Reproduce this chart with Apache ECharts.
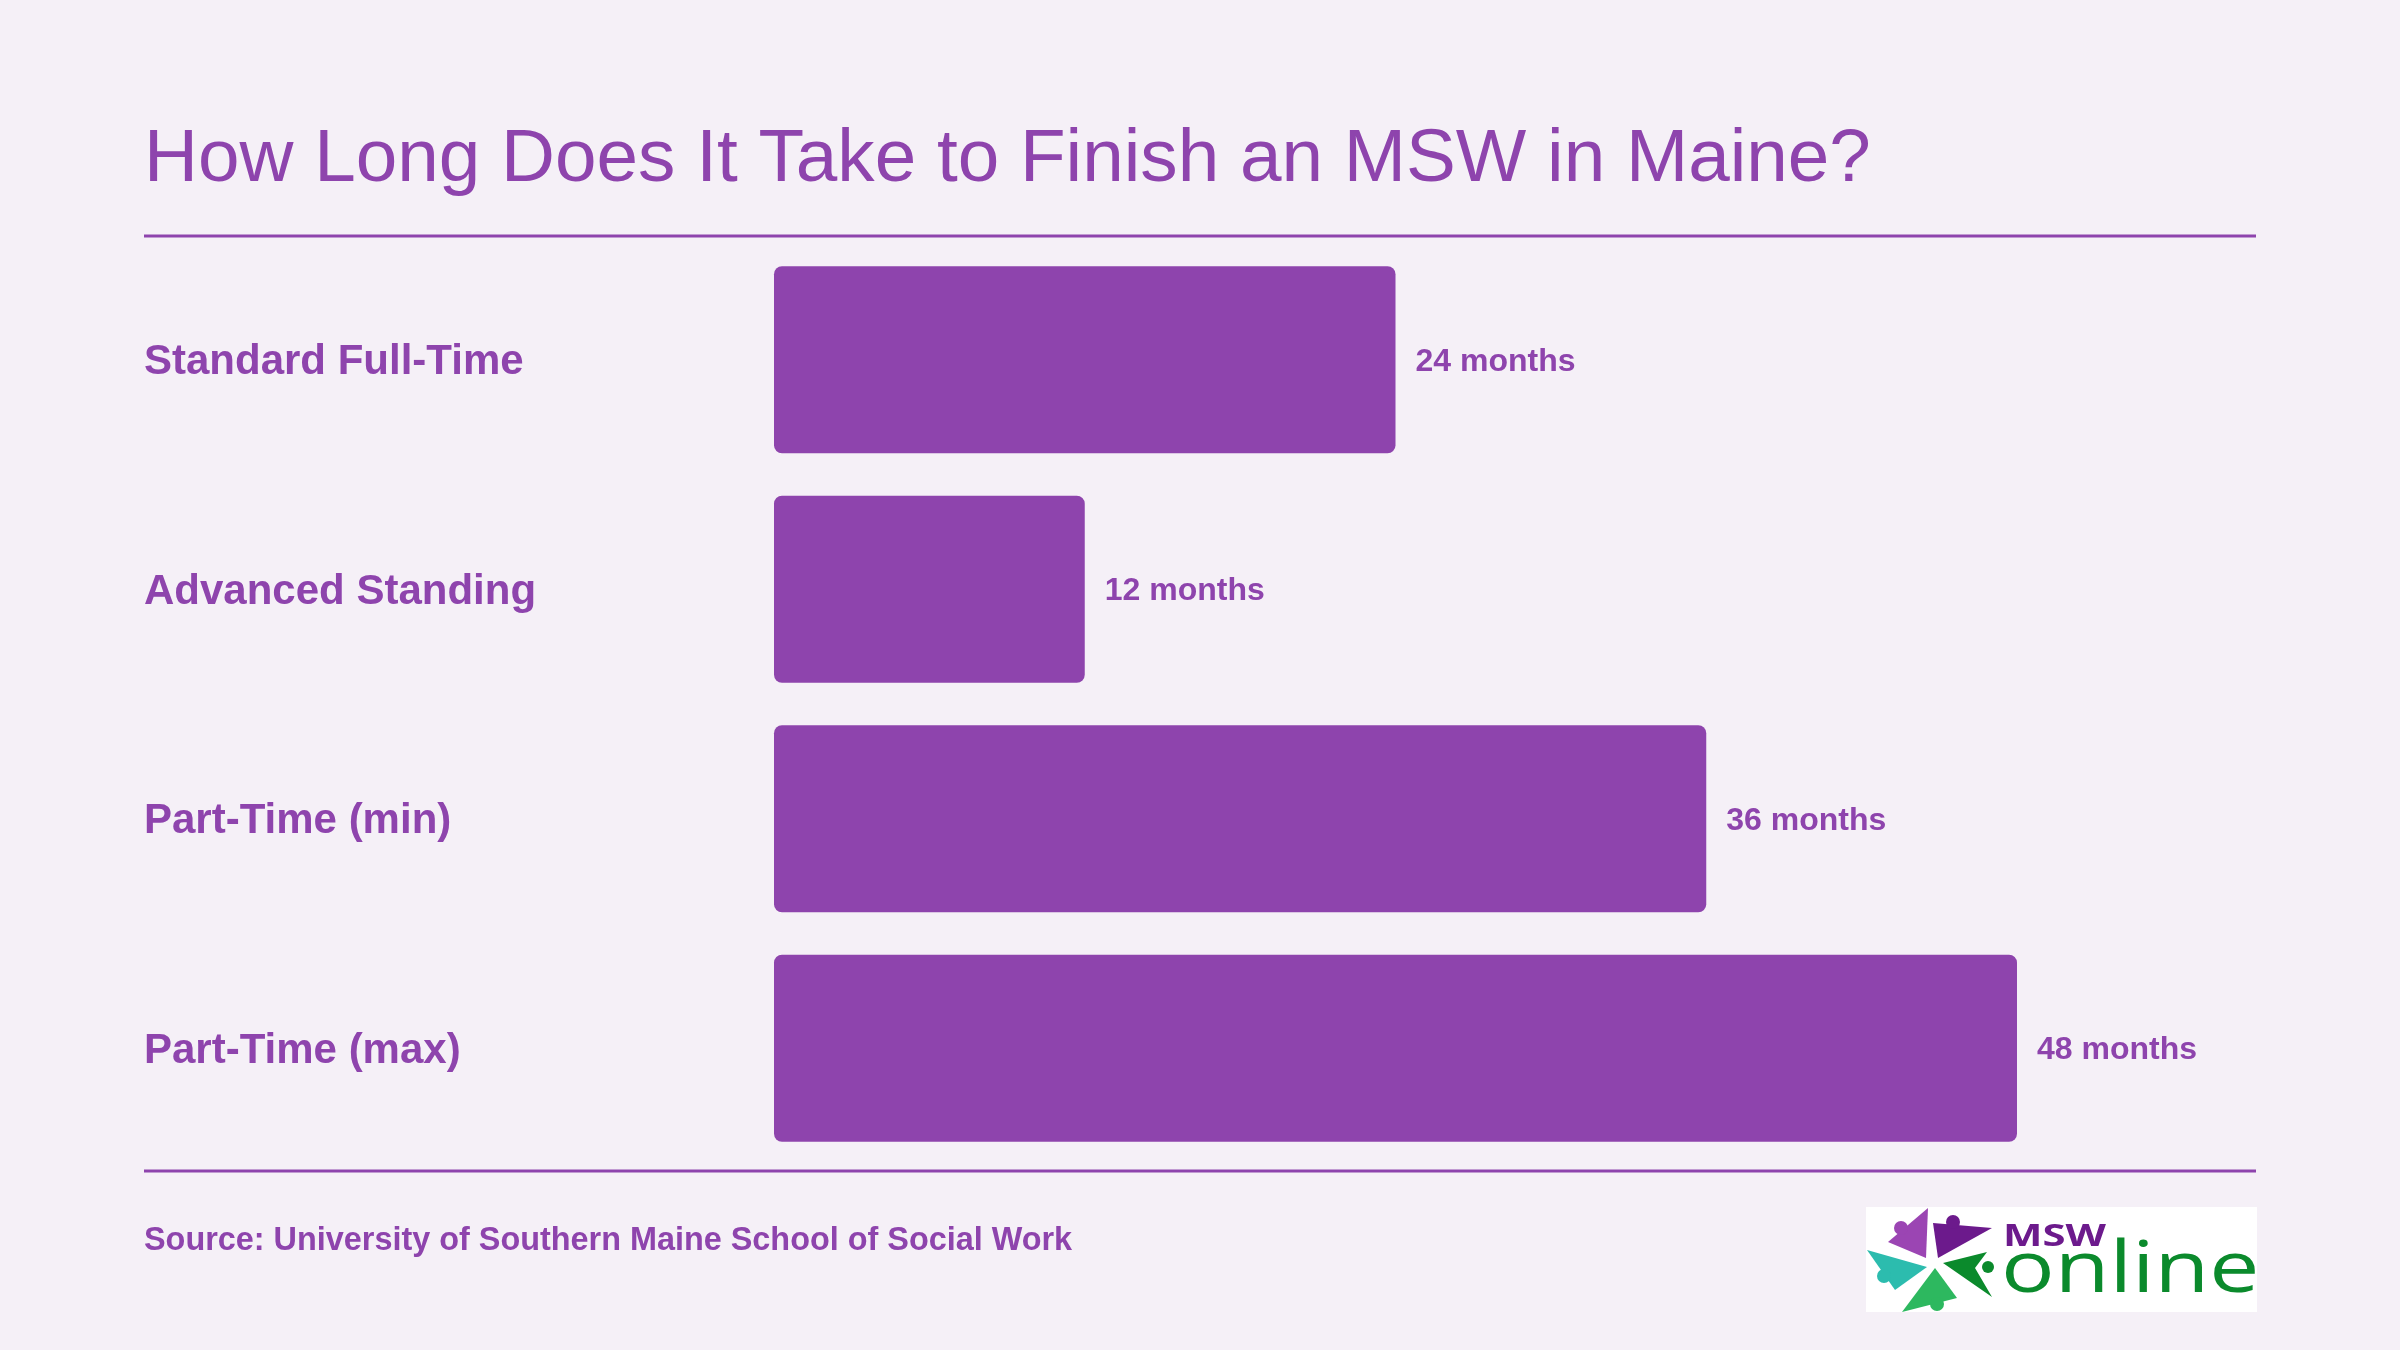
<!DOCTYPE html>
<html>
<head>
<meta charset="utf-8">
<script src="https://cdn.jsdelivr.net/npm/echarts@6/dist/echarts.min.js"></script>
<style>
html,body{margin:0;padding:0;background:#f5f0f7;}
#chart{width:2400px;height:1350px;}
</style>
</head>
<body>
<div id="chart"></div>
<script>
const categories = ['Standard Full-Time', 'Advanced Standing', 'Part-Time (min)', 'Part-Time (max)'];
const months = [24, 12, 36, 48];
const titleText = 'How Long Does It Take to Finish an MSW in Maine?';
const sourceText = 'Source: University of Southern Maine School of Social Work';

const PURPLE = '#8e44ad';
const FONT = '"Liberation Sans", Arial, Helvetica, sans-serif';

const chart = echarts.init(document.getElementById('chart'), null, {renderer: 'canvas'});

const option = {
  backgroundColor: '#f5f0f7',
  animation: false,
  title: {
    text: titleText,
    left: 139,
    top: 118,
    textStyle: {color: PURPLE, fontSize: 74.7, fontWeight: 'normal', fontFamily: FONT}
  },
  grid: {left: 774, right: 383, top: 245, height: 918, containLabel: false},
  xAxis: {
    type: 'value', min: 0, max: 48,
    show: false
  },
  yAxis: {
    type: 'category', data: categories, inverse: true,
    axisLine: {show: false}, axisTick: {show: false}, splitLine: {show: false},
    axisLabel: {
      interval: 0,
      align: 'left', margin: 630, verticalAlign: 'top', lineHeight: 6,
      color: PURPLE, fontSize: 42, fontWeight: 'bold', fontFamily: FONT
    }
  },
  series: [{
    type: 'bar',
    data: months,
    barWidth: 187,
    itemStyle: {color: PURPLE, borderRadius: 8},
    label: {
      show: true, position: 'right', distance: 20, offset: [0, 2],
      formatter: p => p.value + ' months',
      color: PURPLE, fontSize: 32, fontWeight: 'bold', fontFamily: FONT
    }
  }],
  graphic: [
    {type: 'line', shape: {x1: 144, y1: 236, x2: 2256, y2: 236}, style: {stroke: PURPLE, lineWidth: 3}},
    {type: 'line', shape: {x1: 144, y1: 1171, x2: 2256, y2: 1171}, style: {stroke: PURPLE, lineWidth: 3}},
    {type: 'text', x: 144, y: 1241, style: {text: sourceText, fill: PURPLE, font: 'bold 32.4px ' + FONT, textVerticalAlign: 'middle'}},
    // logo
    {type: 'rect', shape: {x: 1866, y: 1207, width: 391, height: 105}, style: {fill: '#ffffff'}},
    {type: 'polygon', shape: {points: [[1888,1242],[1928,1208],[1926,1258]]}, style: {fill: '#9b45b3'}},
    {type: 'circle', shape: {cx: 1901, cy: 1228, r: 7}, style: {fill: '#9b45b3'}},
    {type: 'polygon', shape: {points: [[1933,1223],[1992,1228],[1938,1258]]}, style: {fill: '#6c1a8c'}},
    {type: 'circle', shape: {cx: 1953, cy: 1222, r: 7}, style: {fill: '#6c1a8c'}},
    {type: 'polygon', shape: {points: [[1867,1250],[1927,1267],[1895,1290]]}, style: {fill: '#2cbcae'}},
    {type: 'circle', shape: {cx: 1884, cy: 1276, r: 7}, style: {fill: '#2cbcae'}},
    {type: 'polygon', shape: {points: [[1902,1312],[1935,1268],[1957,1298]]}, style: {fill: '#2db85f'}},
    {type: 'circle', shape: {cx: 1937, cy: 1304, r: 7}, style: {fill: '#2db85f'}},
    {type: 'polygon', shape: {points: [[1943,1263],[1987,1252],[1975,1268],[1992,1297]]}, style: {fill: '#0b8a2c'}},
    {type: 'circle', shape: {cx: 1988, cy: 1267, r: 6}, style: {fill: '#0b8a2c'}},
    {type: 'text', x: 2003, y: 1237, scaleX: 1.35, style: {text: 'MSW', fill: '#6c1a8c', font: 'bold 31px "Open Sans", ' + FONT, textVerticalAlign: 'middle'}},
    {type: 'text', x: 2001, y: 1271, scaleX: 1.24, style: {text: 'online', fill: '#0b8a2c', font: '72px "Open Sans", ' + FONT, textVerticalAlign: 'middle'}}
  ]
};
chart.setOption(option);
</script>
</body>
</html>
